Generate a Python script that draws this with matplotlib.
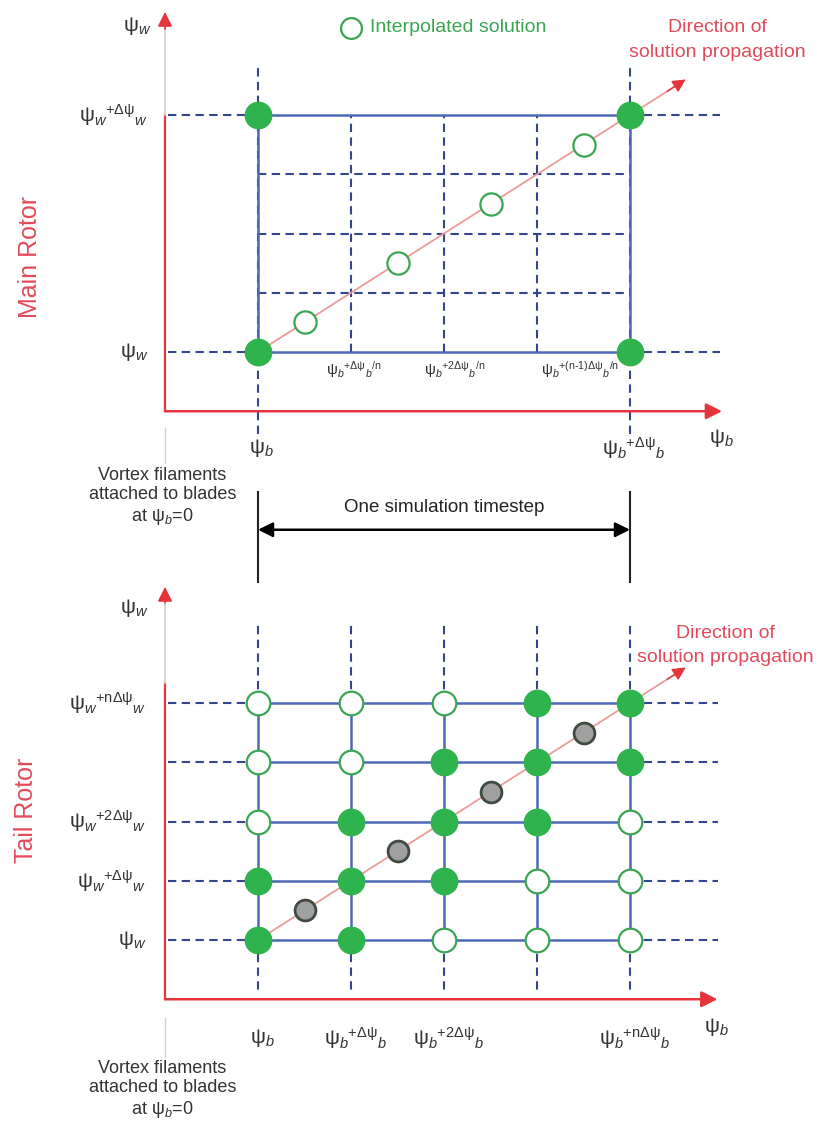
import matplotlib.pyplot as plt

plt.rcParams['font.family'] = ['Liberation Sans', 'DejaVu Sans']
plt.rcParams['mathtext.fontset'] = 'custom'
plt.rcParams['mathtext.rm'] = 'Liberation Sans'
plt.rcParams['mathtext.it'] = 'Liberation Sans:italic'
plt.rcParams['mathtext.bf'] = 'Liberation Sans:bold'
plt.rcParams['mathtext.default'] = 'regular'

# ---- main rotor: one timestep split in n sub-steps ----
main_cols = [0, 1, 2, 3, 4]
main_rows = [0, 1, 2, 3, 4]
main_known_b = [0, 4, 0, 4]
main_known_w = [0, 0, 4, 4]
main_interp_b = [0.5, 1.5, 2.5, 3.5]
main_interp_w = [0.5, 1.5, 2.5, 3.5]
main_sub_ticks = [1, 2, 3]
main_sub_labels = [r'$\psi_{\mathit{b}}{}^{+\Delta\psi}{}_{\mathit{b}}{}^{/n}$',
                   r'$\psi_{\mathit{b}}{}^{+2\Delta\psi}{}_{\mathit{b}}{}^{/n}$',
                   r'$\psi_{\mathit{b}}{}^{+\text{(n-1)}\Delta\psi}{}_{\mathit{b}}{}^{/n}$']
main_b_ticks = [0, 4]
main_b_labels = [r'$\psi_{\mathit{b}}$', r'$\psi_{\mathit{b}}{}^{+\Delta\psi}{}_{\mathit{b}}$']
main_w_ticks = [0, 4]
main_w_labels = [r'$\psi_{\mathit{w}}$', r'$\psi_{\mathit{w}}{}^{+\Delta\psi}{}_{\mathit{w}}$']

# ---- tail rotor: n steps in psi_b and psi_w ----
tail_cols = [0, 1, 2, 3, 4]
tail_rows = [0, 1, 2, 3, 4]
# 1 = solution already known, 0 = not yet computed (row 0 = psi_w)
tail_known = [
    [1, 1, 0, 0, 0],
    [1, 1, 1, 0, 0],
    [0, 1, 1, 1, 0],
    [0, 0, 1, 1, 1],
    [0, 0, 0, 1, 1],
]
tail_interp_b = [0.5, 1.5, 2.5, 3.5]
tail_interp_w = [0.5, 1.5, 2.5, 3.5]
tail_b_ticks = [0, 1, 2, 4]
tail_b_labels = [r'$\psi_{\mathit{b}}$',
                 r'$\psi_{\mathit{b}}{}^{+\Delta\psi}{}_{\mathit{b}}$',
                 r'$\psi_{\mathit{b}}{}^{+2\Delta\psi}{}_{\mathit{b}}$',
                 r'$\psi_{\mathit{b}}{}^{+n\Delta\psi}{}_{\mathit{b}}$']
tail_w_ticks = [0, 1, 2, 4]
tail_w_labels = [r'$\psi_{\mathit{w}}$',
                 r'$\psi_{\mathit{w}}{}^{+\Delta\psi}{}_{\mathit{w}}$',
                 r'$\psi_{\mathit{w}}{}^{+2\Delta\psi}{}_{\mathit{w}}$',
                 r'$\psi_{\mathit{w}}{}^{+n\Delta\psi}{}_{\mathit{w}}$']

RED = '#e5343a'
RED_TXT = '#e24a5a'
BLUE = '#4d69b6'
NAVY = '#34468f'
GREEN = '#2fb34c'
GREEN_EDGE = '#3aa553'
PINK = '#eb9c9a'
LIGHT = '#d2d2d2'
INK = '#333333'

DASH = (0, (4, 2.6))

W, H = 822, 1123
fig = plt.figure(figsize=(W / 100, H / 100), dpi=100)

# both panels use the same scale: one psi_b step = 93 px, one psi_w step = 59.25 px
SX, SY = 93.0, 59.25


def make_panel(top_px, bot_px, origin_x, origin_y):
    ax = fig.add_axes([0, 1 - bot_px / H, 1, (bot_px - top_px) / H])
    ax.set_xlim(-origin_x / SX, (W - origin_x) / SX)
    ax.set_ylim((origin_y - bot_px) / SY, (origin_y - top_px) / SY)
    ax.axis('off')
    return ax


def dashed(ax, xs, ys):
    ax.plot(xs, ys, color=NAVY, lw=1.5, linestyle=DASH, zorder=1)


def solid(ax, xs, ys):
    ax.plot(xs, ys, color=BLUE, lw=1.8, zorder=2, solid_capstyle='butt')


def axes_arrows(ax, red_top, gray_top, tip_top, x_tip):
    # vertical psi_w axis: red part, pale gray extension, red head
    ax.plot([-1, -1], [-1, red_top], color=RED, lw=1.6, zorder=2)
    ax.plot([-1, -1], [red_top, gray_top], color=LIGHT, lw=1.2, zorder=2)
    ax.annotate('', xy=(-1, tip_top), xytext=(-1, gray_top - 0.05),
                arrowprops=dict(arrowstyle='-|>', color=RED, lw=1.2,
                                mutation_scale=22, shrinkA=0, shrinkB=0))
    # horizontal psi_b axis
    ax.annotate('', xy=(x_tip, -1), xytext=(-1, -1),
                arrowprops=dict(arrowstyle='-|>', color=RED, lw=1.8,
                                mutation_scale=24, shrinkA=0, shrinkB=0))


def propagation_arrow(ax, tip, label_x, label_y):
    ax.plot([0, tip - 0.1], [0, tip - 0.1], color=PINK, lw=1.3, zorder=3)
    ax.annotate('', xy=(tip, tip), xytext=(tip - 0.2, tip - 0.2),
                arrowprops=dict(arrowstyle='-|>', color=RED, lw=1.0,
                                mutation_scale=20, shrinkA=0, shrinkB=0))
    ax.text(label_x, label_y + 0.21, 'Direction of', color=RED_TXT,
            fontsize=14, ha='center', va='center')
    ax.text(label_x, label_y - 0.21, 'solution propagation', color=RED_TXT,
            fontsize=14, ha='center', va='center')


def known(ax, b, w):
    ax.plot(b, w, 'o', ms=19, mfc=GREEN, mec=GREEN, mew=1, zorder=5, linestyle='none')


def unknown(ax, b, w, ms=17):
    ax.plot(b, w, 'o', ms=ms, mfc='white', mec=GREEN_EDGE, mew=1.6, zorder=5, linestyle='none')


def vortex_note(ax, top, bottom, text_y):
    ax.plot([-1, -1], [top, bottom], color=LIGHT, lw=1.0)
    ax.text(-1.03, text_y, 'Vortex filaments\nattached to blades\nat $\\psi_{\\mathit{b}}$=0',
            ha='center', va='center', fontsize=13, color=INK, linespacing=1.2)


# ================= main rotor =================
ax1 = make_panel(0, 585, 258, 352)
c0, c1 = main_cols[0], main_cols[-1]
r0, r1 = main_rows[0], main_rows[-1]

# dashed guides outside the cell block
for c in [c0, c1]:
    dashed(ax1, [c, c], [-1.38, 4.88])
for r in [r0, r1]:
    dashed(ax1, [-0.97, c0], [r, r])
    dashed(ax1, [c1, 4.97], [r, r])
# sub-step lines inside the block
for c in main_cols[1:-1]:
    dashed(ax1, [c, c], [r0, r1])
for r in main_rows[1:-1]:
    dashed(ax1, [c0, c1], [r, r])
# solid border of the timestep
solid(ax1, [c0, c1, c1, c0, c0], [r0, r0, r1, r1, r0])

axes_arrows(ax1, 4.0, 5.5, 5.74, 4.99)
propagation_arrow(ax1, 4.6, 4.94, 5.26)
known(ax1, main_known_b, main_known_w)
unknown(ax1, main_interp_b, main_interp_w, ms=16)

# legend entry
unknown(ax1, [1.0], [5.47], ms=15)
ax1.text(1.2, 5.47, 'Interpolated solution', color=GREEN_EDGE, fontsize=14,
         ha='left', va='center')
ax1.text(-2.45, 1.6, 'Main Rotor', color=RED_TXT, fontsize=18, rotation=90,
         ha='center', va='center')

for b, lab, dx in zip(main_sub_ticks, main_sub_labels, [0.03, 0.12, 0.46]):
    ax1.text(b + dx, -0.3, lab, fontsize=11, color=INK, ha='center', va='center')
for b, lab in zip(main_b_ticks, main_b_labels):
    ax1.text(b + 0.04, -1.62, lab, fontsize=15, color=INK, ha='center', va='center')
for w, lab in zip(main_w_ticks, main_w_labels):
    ax1.text(-1.18, w, lab, fontsize=15, color=INK, ha='right', va='center')
ax1.text(4.98, -1.45, r'$\psi_{\mathit{b}}$', fontsize=15, color=INK, ha='center', va='center')
ax1.text(-1.3, 5.5, r'$\psi_{\mathit{w}}$', fontsize=15, color=INK, ha='center', va='center')

vortex_note(ax1, -1.28, -1.87, -2.45)

# one simulation timestep
ax1.plot([c0, c0], [-2.36, -3.88], color='#222222', lw=1.5)
ax1.plot([c1, c1], [-2.36, -3.88], color='#222222', lw=1.5)
ax1.annotate('', xy=(c0, -3.0), xytext=(c1, -3.0),
             arrowprops=dict(arrowstyle='<|-|>', color='black', lw=1.8,
                             mutation_scale=22, shrinkA=0, shrinkB=0))
ax1.text((c0 + c1) / 2, -2.63, 'One simulation timestep', fontsize=13.5,
         color='#222222', ha='center', va='center')

# ================= tail rotor =================
ax2 = make_panel(585, H, 258, 940)
t0, t1 = tail_cols[0], tail_cols[-1]
s0, s1 = tail_rows[0], tail_rows[-1]

for c in tail_cols:
    dashed(ax2, [c, c], [s1, 5.37])
    dashed(ax2, [c, c], [s0, -0.88])
    solid(ax2, [c, c], [s0, s1])
for r in tail_rows:
    dashed(ax2, [-0.97, t0], [r, r])
    dashed(ax2, [t1, 4.95], [r, r])
    solid(ax2, [t0, t1], [r, r])

axes_arrows(ax2, 4.34, 5.74, 5.96, 4.94)
propagation_arrow(ax2, 4.6, 5.03, 4.97)

for r, row in zip(tail_rows, tail_known):
    for c, k in zip(tail_cols, row):
        if k:
            known(ax2, [c], [r])
        else:
            unknown(ax2, [c], [r])
# interpolated tail solutions
ax2.plot(tail_interp_b, tail_interp_w, 'o', ms=15, mfc='#a0a0a0', mec='#3f4a40',
         mew=2.0, zorder=5, linestyle='none')

ax2.text(-2.5, 2.19, 'Tail Rotor', color=RED_TXT, fontsize=18, rotation=90,
         ha='center', va='center')

for b, lab in zip(tail_b_ticks, tail_b_labels):
    ax2.text(b + 0.05, -1.65, lab, fontsize=15, color=INK, ha='center', va='center')
for w, lab in zip(tail_w_ticks, tail_w_labels):
    ax2.text(-1.2, w, lab, fontsize=15, color=INK, ha='right', va='center')
ax2.text(4.93, -1.47, r'$\psi_{\mathit{b}}$', fontsize=15, color=INK, ha='center', va='center')
ax2.text(-1.33, 5.6, r'$\psi_{\mathit{w}}$', fontsize=15, color=INK, ha='center', va='center')

vortex_note(ax2, -1.32, -1.97, -2.53)

fig.savefig('out.png', dpi=100, facecolor='white')
